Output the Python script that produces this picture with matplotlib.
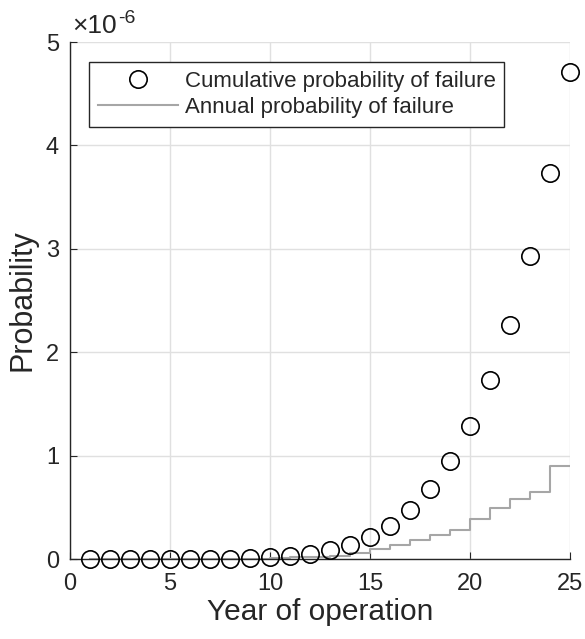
import matplotlib
matplotlib.use("Agg")
import matplotlib.pyplot as plt

plt.rcParams["font.family"] = ["Liberation Sans", "DejaVu Sans"]

# Años de operación y probabilidades (en unidades de 1e-6)
anios = list(range(1, 26))
acumulada = [0.0, 0.0, 0.0, 0.0, 0.0, 0.0, 0.0, 0.002, 0.006, 0.015,
             0.03, 0.05, 0.087, 0.135, 0.21, 0.32, 0.47, 0.68, 0.95, 1.29,
             1.73, 2.26, 2.93, 3.73, 4.71]
anual = [0.0, 0.0, 0.0, 0.0, 0.0, 0.0, 0.0, 0.002, 0.004, 0.01,
         0.015, 0.02, 0.03, 0.055, 0.094, 0.135, 0.18, 0.23, 0.28, 0.39,
         0.49, 0.577, 0.65, 0.90, 0.90]
ticks_y = [0, 1, 2, 3, 4, 5]
ESCALA = 1e-6

COLOR_TEXTO = "#262626"
COLOR_ANUAL = "#a6a6a6"
COLOR_GRID = "#e0e0e0"

fig = plt.figure(figsize=(5.85, 6.39), dpi=100)
ax = fig.add_axes([70 / 585, 1 - 559 / 639, 500 / 585, 517 / 639])

ax.plot(anios, [v * ESCALA for v in acumulada], "o", markersize=12.5,
        markerfacecolor="none", markeredgecolor="black", markeredgewidth=1.2,
        label="Cumulative probability of failure", zorder=3, clip_on=False)
ax.step(anios, [v * ESCALA for v in anual], where="post", color=COLOR_ANUAL,
        linewidth=1.5, label="Annual probability of failure", zorder=2)

ax.set_xlim(0, 25)
ax.set_ylim(0, 5e-6)
ax.set_xticks(range(0, 26, 5))
ax.set_yticks([t * ESCALA for t in ticks_y])
ax.set_yticklabels([str(t) for t in ticks_y])

# Multiplicador del eje y, con guion simple en el exponente
base = ax.text(0.004, 1.008, "×10", transform=ax.transAxes, fontsize=19,
               color=COLOR_TEXTO, ha="left", va="bottom")
ax.annotate("-6", xy=(1, 1), xycoords=base, xytext=(1, -3),
            textcoords="offset points", fontsize=14, color=COLOR_TEXTO,
            ha="left", va="center")

ax.grid(True, color=COLOR_GRID, linewidth=1.0, zorder=0)
ax.set_axisbelow(True)
for lado in ("top", "right"):
    ax.spines[lado].set_visible(False)
for lado in ("left", "bottom"):
    ax.spines[lado].set_color(COLOR_TEXTO)
    ax.spines[lado].set_linewidth(1.0)
ax.tick_params(direction="in", length=5, labelsize=17, colors=COLOR_TEXTO,
               pad=8)
ax.tick_params(axis="x", pad=10)

ax.set_xlabel("Year of operation", fontsize=21.5, color=COLOR_TEXTO, labelpad=2)
ax.set_ylabel("Probability", fontsize=22, color=COLOR_TEXTO, labelpad=6)

leg = ax.legend(loc="upper left", bbox_to_anchor=(0.038, 0.962), fontsize=16,
                frameon=True, fancybox=False, framealpha=1, edgecolor=COLOR_TEXTO,
                handlelength=3.6, borderpad=0.4, labelspacing=0.25,
                handletextpad=0.3, borderaxespad=0)
leg.get_frame().set_linewidth(1.0)
for t in leg.get_texts():
    t.set_color(COLOR_TEXTO)

fig.savefig("out.png", dpi=100)
